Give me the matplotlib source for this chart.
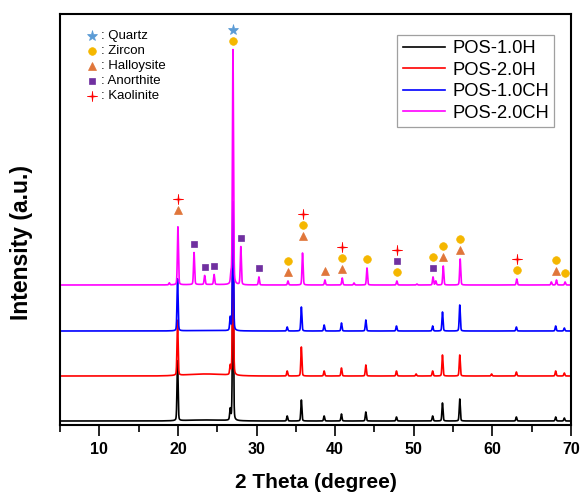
import numpy as np
import matplotlib
matplotlib.use("Agg")
import matplotlib.pyplot as plt
from matplotlib.path import Path

plt.rcParams['font.family'] = ['Liberation Sans', 'DejaVu Sans']

# ---- diffraction peaks of each sample: 2theta (degree) and intensity (a.u.) ----
pos_10H = [19.95, 26.65, 27.0, 33.9, 35.7, 38.6, 40.8, 43.9, 47.8, 52.4, 53.65, 55.85, 63.05, 68.05, 69.15]
int_10H = [60, 11, 150, 5, 21, 5, 7, 9, 4, 5, 18, 22, 4, 4, 3]

pos_20H = [19.95, 26.65, 27.0, 33.9, 35.7, 38.6, 40.8, 43.9, 47.8, 50.3, 52.4, 53.65, 55.85, 59.9, 63.05, 68.05, 69.15]
int_20H = [55, 9, 145, 5, 29, 5, 8, 11, 5, 2, 5, 21, 21, 2, 4, 5, 3]

pos_10CH = [19.95, 26.65, 27.0, 33.9, 35.7, 38.6, 40.8, 43.9, 47.8, 52.4, 53.65, 55.85, 63.05, 68.05, 69.15]
int_10CH = [52, 13, 129, 4, 24, 6, 8, 11, 5, 5, 19, 26, 4, 5, 3]

pos_20CH = [18.9, 20.0, 22.05, 23.4, 24.6, 26.75, 27.0, 28.0, 30.3, 34.0, 35.85,
            38.7, 40.9, 42.4, 44.05, 47.85, 50.4, 52.45, 52.8, 53.75, 55.9, 63.1, 67.5, 68.15, 69.25]
int_20CH = [2, 58, 32, 9, 10, 9, 235, 38, 8, 4, 32,
            5, 7, 2, 17, 4, 1, 8, 4, 19, 26, 6, 3, 5, 3]

# broad amorphous background between 20 and 27 degree
hump_10H, hump_20H, hump_10CH, hump_20CH = 1.0, 2.0, 0.5, 0.5

labels = ["POS-1.0H", "POS-2.0H", "POS-1.0CH", "POS-2.0CH"]
colors = ["black", "red", "#0000ff", "#ff00ff"]
offsets = [4, 49, 94, 140]

# ---- phase identification of the POS-2.0CH reflections ----
phases = ["Quartz", "Zircon", "Halloysite", "Anorthite", "Kaolinite"]
phase_at_peak = {
    20.0: ["Halloysite", "Kaolinite"],
    22.05: ["Anorthite"],
    23.4: ["Anorthite"],
    24.6: ["Anorthite"],
    27.0: ["Zircon", "Quartz"],
    28.0: ["Anorthite"],
    30.3: ["Anorthite"],
    34.0: ["Halloysite", "Zircon"],
    35.85: ["Halloysite", "Zircon", "Kaolinite"],
    38.7: ["Halloysite"],
    40.9: ["Halloysite", "Zircon", "Kaolinite"],
    44.05: ["Zircon"],
    47.85: ["Zircon", "Anorthite", "Kaolinite"],
    52.45: ["Anorthite", "Zircon"],
    53.75: ["Halloysite", "Zircon"],
    55.9: ["Halloysite", "Zircon"],
    63.1: ["Zircon", "Kaolinite"],
    68.15: ["Halloysite", "Zircon"],
    69.25: ["Zircon"],
}

# slender four-pointed star for kaolinite
_r_in = 0.14
_ang = np.deg2rad(np.arange(0, 360, 45) + 90)
_rad = np.array([1, _r_in] * 4)
_verts = np.column_stack([_rad * np.cos(_ang), _rad * np.sin(_ang)])
sparkle = Path(np.vstack([_verts, _verts[:1]]), closed=True)

symbol = {
    "Quartz": dict(marker="*", color="#5b9bd5", ms=8),
    "Zircon": dict(marker="o", color="#f5b700", ms=5.5),
    "Halloysite": dict(marker="^", color="#e0763a", ms=5.5),
    "Anorthite": dict(marker="s", color="#7030a0", ms=5),
    "Kaolinite": dict(marker=sparkle, color="#ff0000", ms=7.5),
}

two_theta = np.arange(5.0, 70.0, 0.01)


def pattern(pos, inten, hump):
    y = hump * np.exp(-0.5 * ((two_theta - 23.5) / 2.5) ** 2)
    fwhm = 0.16
    for p, h in zip(pos, inten):
        g = np.exp(-4 * np.log(2) * ((two_theta - p) / fwhm) ** 2)
        l = 1.0 / (1.0 + 4 * ((two_theta - p) / fwhm) ** 2)
        y += h * (0.75 * g + 0.25 * l)
    return y


fig = plt.figure(figsize=(5.84, 4.93), dpi=100)
ax = fig.add_axes([60 / 584, 1 - 425 / 493, 511 / 584, 411 / 493])

series = [(pos_10H, int_10H, hump_10H), (pos_20H, int_20H, hump_20H),
          (pos_10CH, int_10CH, hump_10CH), (pos_20CH, int_20CH, hump_20CH)]
handles = []
for (pos, inten, hump), lab, col, off in zip(series, labels, colors, offsets):
    y = pattern(pos, inten, hump) + off
    ln, = ax.plot(two_theta, y, color=col, lw=1.2, label=lab)
    handles.append(ln)

# phase markers stacked above the POS-2.0CH peaks
top_curve = pattern(pos_20CH, int_20CH, hump_20CH) + offsets[3]
lift = {20.0: 8, 35.85: 8}
for p, names in phase_at_peak.items():
    peak_top = top_curve[np.argmin(np.abs(two_theta - p))]
    base = peak_top + 8.5 + lift.get(p, 0)
    for k, nm in enumerate(names):
        st = symbol[nm]
        ax.plot(p, base + 11 * k, linestyle="none", marker=st["marker"], ms=st["ms"],
                color=st["color"], mec=st["color"], mew=0.5)

# key of phase symbols
for k, nm in enumerate(phases):
    st = symbol[nm]
    yk = 0.946 - k * 0.0365
    ax.plot(0.062, yk, transform=ax.transAxes, linestyle="none", marker=st["marker"],
            ms=st["ms"], color=st["color"], mec=st["color"], mew=0.5)
    ax.text(0.081, yk, ": " + nm, transform=ax.transAxes, fontsize=9.5, va="center", ha="left")

leg = ax.legend(handles=handles, loc="upper left", bbox_to_anchor=(0.6595, 0.949),
                borderaxespad=0, fontsize=13.2, frameon=True, fancybox=False,
                handlelength=2.3, handletextpad=0.4, labelspacing=0.24, borderpad=0.3)
leg.get_frame().set_edgecolor("#888888")
leg.get_frame().set_linewidth(0.9)
for h in leg.get_lines():
    h.set_linewidth(1.2)

ax.set_xlim(5, 70)
ax.set_ylim(0, 411)
ax.set_xticks(np.arange(10, 71, 10))
ax.set_xticks(np.arange(5, 71, 5), minor=True)
ax.set_yticks([])
ax.tick_params(axis="x", which="major", direction="out", length=8, width=1.2, labelsize=11.5, pad=4)
ax.tick_params(axis="x", which="minor", direction="out", length=5, width=1.2)
for lbl in ax.get_xticklabels():
    lbl.set_fontweight("bold")
for s in ax.spines.values():
    s.set_linewidth(1.5)

ax.set_xlabel("2 Theta (degree)", fontsize=15, fontweight="bold", va="center")
ax.xaxis.set_label_coords(0.5, -0.139)
ax.set_ylabel("Intensity (a.u.)", fontsize=16.5, fontweight="bold", va="center")
ax.yaxis.set_label_coords(-0.0744, 0.443)

fig.savefig("out.png", dpi=100)
